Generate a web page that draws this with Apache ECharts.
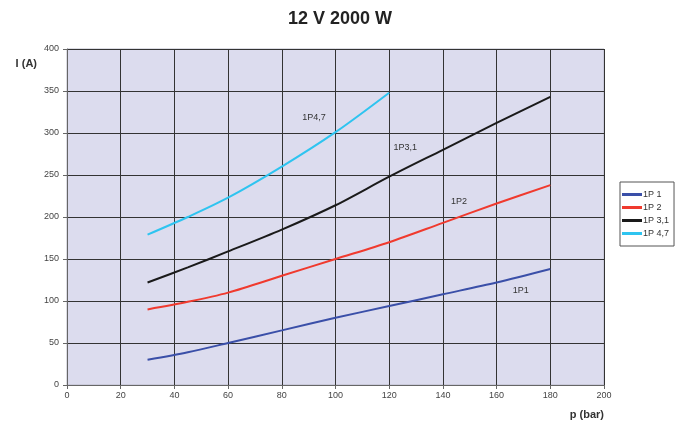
<!DOCTYPE html>
<html><head><meta charset="utf-8">
<script src="https://cdn.jsdelivr.net/npm/echarts@6/dist/echarts.min.js"></script>
<style>html,body{margin:0;padding:0;background:#fff}#c{width:684px;height:426px}</style>
</head><body><div id="c"></div>
<script>
const seriesNames = ['1P 1', '1P 2', '1P 3,1', '1P 4,7'];
const curveLabels = ['1P1', '1P2', '1P3,1', '1P4,7'];
const p1 = [[30,30],[45,39],[60,50],[80,65],[100,80],[120,94],[140,108],[160,122],[180,138]];
const p2 = [[30,90],[45,99],[60,110],[80,130],[100,150],[120,170],[140,193],[160,216],[180,238]];
const p31 = [[30,122],[45,140],[60,159],[80,185],[100,214],[120,248],[140,280],[160,312],[180,343]];
const p47 = [[30,179],[45,200],[60,223],[80,260],[100,301],[120,348]];
const labelPos = [[169,113],[146,219],[126,283],[92,318]];
const colors = ['#3a4fa8', '#f03a2e', '#1a1a1a', '#2ec4f0'];
const allData = [p1, p2, p31, p47];

const chart = echarts.init(document.getElementById('c'));
chart.setOption({
  animation: false,
  title: { text: '12 V 2000 W', left: 335, top: 5, textAlign: 'center',
    textStyle: { fontFamily: 'Liberation Sans', fontSize: 18, fontWeight: 'bold', color: '#222' } },
  grid: { left: 67, right: 80, top: 49, bottom: 41, show: true, backgroundColor: '#dcdcee', borderColor: '#b8b8c8', borderWidth: 1 },
  legend: {
    orient: 'vertical', left: 620, top: 182, data: seriesNames,
    icon: 'rect', itemWidth: 20, itemHeight: 3, itemGap: 4,
    borderColor: '#555', borderWidth: 1, padding: [8, 5, 8, 2],
    textStyle: { fontFamily: 'Liberation Sans', fontSize: 9, color: '#333', padding: [0, 0, 0, -4] }
  },
  xAxis: {
    type: 'value', min: 0, max: 200, interval: 20,
    name: 'p (bar)', nameLocation: 'end', nameGap: 0,
    nameTextStyle: { fontFamily: 'Liberation Sans', fontSize: 11, fontWeight: 'bold', color: '#333', align: 'right', verticalAlign: 'top', padding: [24, 0, 0, 0] },
    axisLine: { show: true, lineStyle: { color: '#666' } },
    axisTick: { show: true, length: 4, lineStyle: { color: '#666' } },
    axisLabel: { fontFamily: 'Liberation Sans', fontSize: 9, color: '#444', margin: 6 },
    splitLine: { show: true, lineStyle: { color: '#333', width: 1 } }
  },
  yAxis: {
    type: 'value', min: 0, max: 400, interval: 50,
    name: 'I (A)', nameLocation: 'end', nameGap: 0,
    nameTextStyle: { fontFamily: 'Liberation Sans', fontSize: 11, fontWeight: 'bold', color: '#333', align: 'right', padding: [0, 30, -20, 0] },
    axisLine: { show: true, lineStyle: { color: '#666' } },
    axisTick: { show: true, length: 4, lineStyle: { color: '#666' } },
    axisLabel: { fontFamily: 'Liberation Sans', fontSize: 9, color: '#444', margin: 8 },
    splitLine: { show: true, lineStyle: { color: '#333', width: 1 } }
  },
  series: seriesNames.map((n, i) => ({
    name: n, type: 'line', data: allData[i], smooth: 0.3, showSymbol: false, symbol: 'none',
    lineStyle: { color: colors[i], width: 2 }, itemStyle: { color: colors[i] },
    markPoint: {
      symbol: 'circle', symbolSize: 0,
      data: [{ coord: labelPos[i] }],
      label: { show: true, position: 'inside', formatter: curveLabels[i],
        fontFamily: 'Liberation Sans', fontSize: 9, color: '#333' }
    }
  }))
});
</script></body></html>
